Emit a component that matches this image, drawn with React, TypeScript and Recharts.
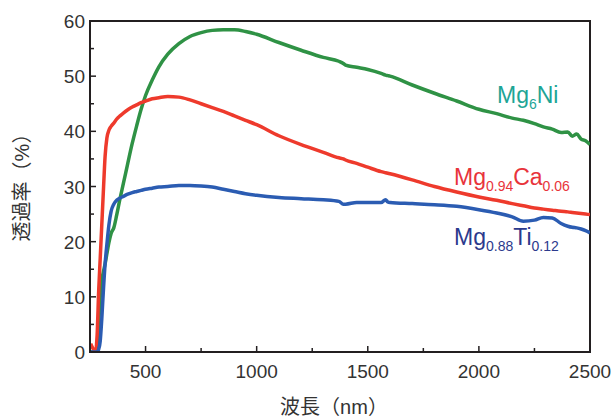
import React from "react";
import { LineChart, Line, XAxis, YAxis, ReferenceArea, Label } from "recharts";

// wavelength (nm)
const wavelength = [
  253, 260, 268, 275, 282, 289, 296, 303, 310, 318, 326, 335, 345, 357, 370, 385,
  400, 420, 440, 460, 480, 500, 530, 560, 600, 650, 700, 750, 800, 850, 900, 950,
  1000, 1100, 1200, 1300, 1370, 1390, 1400, 1450, 1500, 1560, 1580, 1590, 1600,
  1700, 1800, 1900, 2000, 2080, 2150, 2200, 2250, 2290, 2330, 2370, 2400, 2420,
  2440, 2460, 2480, 2500,
];

// transmittance (%)
const mg6ni = [
  0, 0, 0, 0, 0.5, 5, 10, 13, 14.5, 16, 17.8, 19.8, 21.5, 22.5, 24.8, 27.8,
  30.5, 34.2, 37.8, 41.0, 44.0, 46.5, 49.3, 51.7, 54.0, 55.9, 57.2, 57.9, 58.3, 58.4, 58.4, 58.1,
  57.6, 56.1, 54.7, 53.4, 52.7, 52.3, 52.0, 51.6, 51.2, 50.5, 50.2, 50.1, 50.0,
  48.4, 46.9, 45.5, 44.0, 43.2, 42.4, 42.0, 41.4, 40.8, 40.4, 39.8, 39.9, 39.1,
  39.5, 38.6, 38.3, 37.6,
];
const mgCa = [
  1.5, 0.9, 0.4, 0.5, 3, 11, 17, 23, 29, 35.5, 38.8, 40.2, 40.9, 41.5, 42.2, 42.8,
  43.3, 43.9, 44.4, 44.8, 45.2, 45.5, 45.9, 46.1, 46.3, 46.2, 45.7, 45.0, 44.3, 43.6, 42.8, 42.0,
  41.2, 39.2, 37.6, 36.2, 35.2, 35.0, 34.8, 34.2, 33.5, 32.7, 32.5, 32.4, 32.3,
  31.2, 30.0, 29.0, 28.1, 27.5, 26.9, 26.5, 26.1, 25.9, 25.7, 25.5, 25.4, 25.3,
  25.2, 25.1, 25.0, 24.9,
];
const mgTi = [
  0, 0, 0, 0, 0, 0.5, 2, 6, 11, 16, 19.5, 23, 25.5, 26.8, 27.5, 27.9,
  28.2, 28.6, 28.9, 29.1, 29.3, 29.5, 29.7, 29.9, 30.0, 30.2, 30.2, 30.1, 29.9, 29.5, 29.1, 28.7,
  28.4, 28.0, 27.8, 27.6, 27.3, 26.8, 26.8, 27.1, 27.1, 27.1, 27.6, 27.2, 27.1,
  26.9, 26.7, 26.4, 25.8, 25.2, 24.5, 23.7, 23.9, 24.4, 24.3, 23.3, 22.8, 22.6,
  22.5, 22.3, 22.0, 21.6,
];

const xTicks = [500, 750, 1000, 1250, 1500, 1750, 2000, 2250, 2500];
const yTicks = [0, 5, 10, 15, 20, 25, 30, 35, 40, 45, 50, 55, 60];

const data = wavelength.map((w, i) => ({ w, ni: mg6ni[i], ca: mgCa[i], ti: mgTi[i] }));

const AXIS = "#231f20";
const TEXT = "#333";
const FONT = "'Liberation Sans', 'Noto Sans CJK JP', sans-serif";

const XTick = (props: any) => {
  const { x, y, payload } = props;
  const major = payload.value % 500 === 0;
  return (
    <g>
      <line x1={x} x2={x} y1={y} y2={y - (major ? 6 : 4)} stroke={AXIS} strokeWidth={1.5} />
      {major && (
        <text x={x} y={y + 26} textAnchor="middle" fill={TEXT} fontSize={19} fontFamily={FONT}>
          {payload.value}
        </text>
      )}
    </g>
  );
};

const YTick = (props: any) => {
  const { x, y, payload } = props;
  const major = payload.value % 10 === 0;
  return (
    <g>
      <line x1={x} x2={x + (major ? 6 : 4)} y1={y} y2={y} stroke={AXIS} strokeWidth={1.5} />
      {major && (
        <text x={x - 5} y={y + 7} textAnchor="end" fill={TEXT} fontSize={19} fontFamily={FONT}>
          {payload.value}
        </text>
      )}
    </g>
  );
};

export default function App() {
  return (
    <div style={{ position: "absolute", left: 0, top: 0, width: 613, height: 417, background: "#fff" }}>
      <LineChart width={613} height={417} data={data} margin={{ top: 21, right: 23, bottom: 0, left: 0 }}>
        <XAxis
          dataKey="w"
          type="number"
          domain={[250, 2500]}
          ticks={xTicks}
          tick={<XTick />}
          tickLine={false}
          tickSize={0}
          tickMargin={0}
          height={65}
          axisLine={{ stroke: AXIS, strokeWidth: 2 }}
          allowDataOverflow
        >
          <Label
            value="波長（nm）"
            position="insideBottom"
            offset={3}
            dx={-6}
            fill={TEXT}
            fontSize={20}
            fontFamily={FONT}
          />
        </XAxis>
        <YAxis
          type="number"
          domain={[0, 60]}
          ticks={yTicks}
          tick={<YTick />}
          tickLine={false}
          tickSize={0}
          tickMargin={0}
          width={90}
          axisLine={{ stroke: AXIS, strokeWidth: 2 }}
          allowDataOverflow
        >
          <Label
            value="透過率（%）"
            angle={-90}
            position="insideLeft"
            offset={22}
            dy={-4}
            fill={TEXT}
            fontSize={20}
            fontFamily={FONT}
            style={{ textAnchor: "middle" }}
          />
        </YAxis>
        <ReferenceArea x1={250} x2={2500} y1={0} y2={60} fill="none" stroke={AXIS} strokeWidth={2} />
        <Line dataKey="ni" type="monotone" stroke="#2f9245" strokeWidth={3.5} dot={false} isAnimationActive={false} />
        <Line dataKey="ca" type="monotone" stroke="#ee3a2c" strokeWidth={3.5} dot={false} isAnimationActive={false} />
        <Line dataKey="ti" type="monotone" stroke="#2b5cb2" strokeWidth={3.5} dot={false} isAnimationActive={false} />
      </LineChart>
      <svg width={613} height={417} style={{ position: "absolute", left: 0, top: 0, pointerEvents: "none" }}>
        <text x={497} y={103} fill="#1ea596" fontSize={23} fontFamily={FONT}>
          Mg<tspan fontSize={14} dy={6}>6</tspan><tspan dy={-6}>Ni</tspan>
        </text>
        <text x={454} y={185} fill="#e8343b" fontSize={23} fontFamily={FONT}>
          Mg<tspan fontSize={14} dy={6}>0.94</tspan><tspan dy={-6}>Ca</tspan><tspan fontSize={14} dy={6}>0.06</tspan>
        </text>
        <text x={454} y={245} fill="#2c3a8d" fontSize={23} fontFamily={FONT}>
          Mg<tspan fontSize={14} dy={6}>0.88</tspan><tspan dy={-6}>Ti</tspan><tspan fontSize={14} dy={6}>0.12</tspan>
        </text>
      </svg>
    </div>
  );
}
